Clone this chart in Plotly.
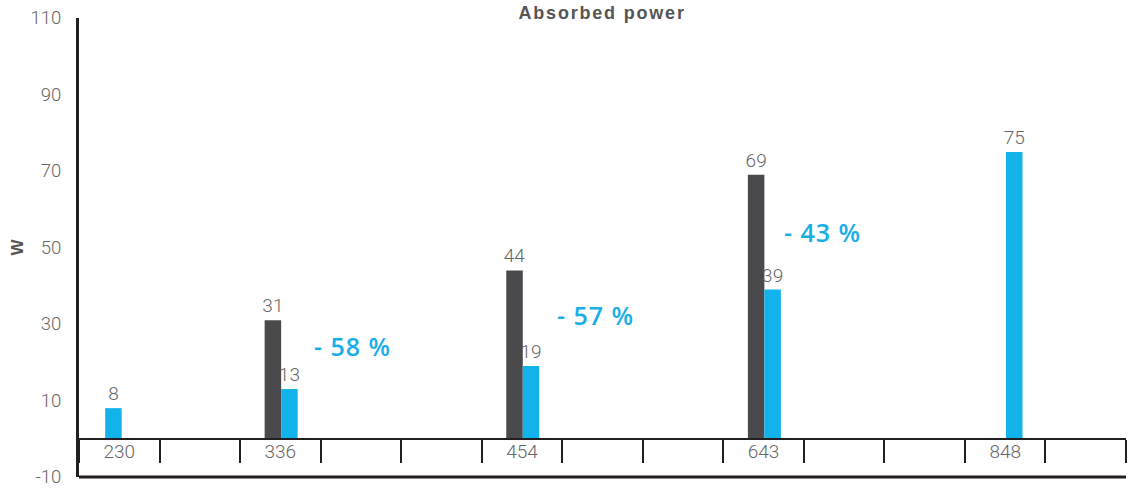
import plotly.graph_objects as go

# Axis slots along the x axis (blank slots are empty spacer columns)
TICK_LABELS = ["230", "", "336", "", "", "454", "", "", "643", "", "", "848", ""]

# Absorbed power in W
DARK_CATS = ["336", "454", "643"]
DARK_VALUES = [31, 44, 69]
BLUE_CATS = ["230", "336", "454", "643", "848"]
BLUE_VALUES = [8, 13, 19, 39, 75]

Y_RANGE = [-10, 110]
Y_TICKS = [-10, 10, 30, 50, 70, 90, 110]

# unique category ids; blanks become distinct whitespace strings
categories = [lab if lab else " " * (i + 1) for i, lab in enumerate(TICK_LABELS)]

AXIS_COLOR = "#231f20"
TEXT_GRAY = "#666666"
BLUE = "#12b3ea"
DARK = "#4a4a4c"
PCT_BLUE = "#1aaee6"
NUM_FONT = "Roboto"

BAR_W = 0.205

fig = go.Figure()

fig.add_trace(go.Bar(
    x=DARK_CATS, y=DARK_VALUES,
    width=BAR_W, offset=-0.195,
    marker=dict(color=DARK, line=dict(width=0)),
    text=DARK_VALUES, texttemplate="%{y}", textposition="outside",
    constraintext="none", cliponaxis=False,
    textfont=dict(family=NUM_FONT, size=19, color=TEXT_GRAY, weight=300),
    showlegend=False,
))

blue_offsets = [-0.175 if c == "230" else 0.01 for c in BLUE_CATS]
fig.add_trace(go.Bar(
    x=BLUE_CATS, y=BLUE_VALUES,
    width=BAR_W, offset=blue_offsets,
    marker=dict(color=BLUE, line=dict(width=0)),
    text=BLUE_VALUES, texttemplate="%{y}", textposition="outside",
    constraintext="none", cliponaxis=False,
    textfont=dict(family=NUM_FONT, size=19, color=TEXT_GRAY, weight=300),
    showlegend=False,
))

# percentage reduction labels, placed beside each pair near its mean height
pct_xshift = {"336": 0.39, "454": 0.41, "643": 0.23}
pct_yshift = {"336": 9, "454": 3, "643": 0}
blue_lookup = dict(zip(BLUE_CATS, BLUE_VALUES))
for cat, dark_v in zip(DARK_CATS, DARK_VALUES):
    blue_v = blue_lookup[cat]
    pct = round((blue_v - dark_v) / dark_v * 100)
    fig.add_annotation(
        x=categories.index(cat) + pct_xshift[cat], y=(dark_v + blue_v) / 2,
        yshift=pct_yshift[cat],
        xref="x", yref="y", xanchor="left", yanchor="middle",
        text=f'<span style="letter-spacing:1px">- {abs(pct)} %</span>',
        showarrow=False,
        font=dict(family="Open Sans", size=25, color=PCT_BLUE, weight=600),
    )

zero_pos = (0 - Y_RANGE[0]) / (Y_RANGE[1] - Y_RANGE[0])

fig.update_layout(
    width=1135, height=491,
    margin=dict(l=79, r=9, t=18, b=14),
    paper_bgcolor="white", plot_bgcolor="white",
    barmode="overlay",
    title=dict(
        text='<b><span style="letter-spacing:1.8px">Absorbed power</span></b>',
        x=0.5305, xanchor="center",
        y=1 - 13 / 491, yanchor="middle", yref="container",
        font=dict(family="Liberation Sans", size=18, color="#555555"),
    ),
    xaxis=dict(
        type="category", categoryorder="array", categoryarray=categories,
        range=[-0.5, len(categories) - 0.5],
        anchor="free", position=zero_pos, automargin=False,
        showline=True, linecolor=AXIS_COLOR, linewidth=1.5,
        ticks="outside", tickson="boundaries", ticklen=23, tickwidth=1.5,
        tickcolor=AXIS_COLOR, ticklabelstandoff=-4,
        tickfont=dict(family=NUM_FONT, size=19, color=TEXT_GRAY, weight=300),
        showgrid=False, zeroline=False, fixedrange=True,
    ),
    yaxis=dict(
        range=Y_RANGE, tickmode="array", tickvals=Y_TICKS,
        ticktext=[str(v) for v in Y_TICKS], automargin=False,
        showline=True, linecolor=AXIS_COLOR, linewidth=3,
        ticks="", ticklabelstandoff=11,
        tickfont=dict(family=NUM_FONT, size=18.5, color=TEXT_GRAY, weight=300),
        showgrid=False, zeroline=False,
        title=dict(text="<b>W</b>", standoff=3,
                   font=dict(family="Liberation Sans", size=17, color="#555555")),
    ),
    shapes=[dict(
        type="line", xref="paper", yref="paper", x0=0, x1=1, y0=0, y1=0,
        line=dict(color=AXIS_COLOR, width=3), layer="above",
    )],
)

fig.write_html("out.html")
